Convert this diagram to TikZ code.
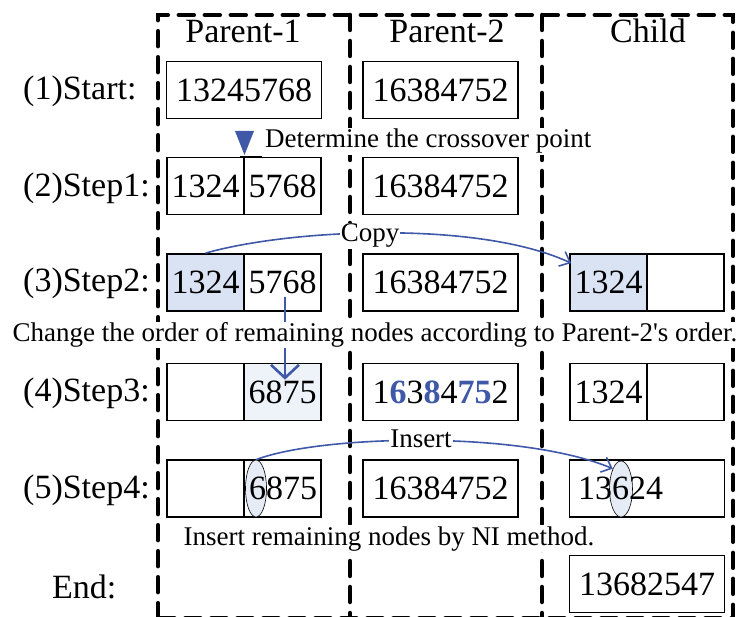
\documentclass[tikz,border=0pt]{standalone}
\usepackage{fontspec}
\setmainfont{Liberation Serif}[Ligatures=TeXOff]
\usetikzlibrary{arrows.meta,shapes.geometric,calc}
\definecolor{flowblue}{HTML}{3F58A8}
\definecolor{cellblue}{HTML}{DAE3F3}
\definecolor{cellpale}{HTML}{EEF2F9}
\definecolor{ovalfill}{HTML}{E6ECF6}

\begin{document}
\begin{tikzpicture}[x=1pt,y=1pt,
  lane/.style={line width=4.5pt, dash pattern=on 15pt off 11pt, line cap=round},
  cell/.style={draw, line width=1.7pt, minimum height=57pt, inner sep=0pt,
               font=\fontsize{34}{40}\selectfont},
  fullcell/.style={cell, minimum width=155pt},
  halfcell/.style={cell, minimum width=77pt},
  big/.style={font=\fontsize{34}{40}\selectfont, inner sep=0pt},
  note/.style={font=\fontsize{27}{32}\selectfont, inner sep=1pt, fill=white},
  oval/.style={ellipse, draw, line width=0.6pt, fill=ovalfill, inner sep=0pt},
  flow/.style={draw=flowblue, line width=1.6pt, -{Straight Barb[length=9pt,width=16pt,line width=1.6pt]}},
  ]
\useasboundingbox (0,0) rectangle (741,616);

% lane frame and column separators
\draw[lane] (158,-2.2) -- (158,601) -- (733,601) -- (733,-2.2) -- cycle;
\draw[lane] (350,601) -- (350,-2.2);
\draw[lane] (542,601) -- (542,-2.2);

% column headings
\node[big, anchor=base] (h1) at (243,573) {Parent-1};
\node[big, anchor=base] (h2) at (447,573) {Parent-2};
\node[big, anchor=base] (h3) at (648,573) {Child};

% row labels
\node[big, anchor=base west] (l1) at (23,516) {(1)Start:};
\node[big, anchor=base west] (l2) at (23,419) {(2)Step1:};
\node[big, anchor=base west] (l3) at (23,324) {(3)Step2:};
\node[big, anchor=base west] (l4) at (23,214) {(4)Step3:};
\node[big, anchor=base west] (l5) at (23,118) {(5)Step4:};
\node[big, anchor=base west] (l6) at (52,18) {End:};

% (1) start
\node[fullcell] (p1r1) at (244,526) {13245768};
\node[fullcell] (p2r1) at (440.5,526) {16384752};

% (2) crossover point
\node[note, anchor=base west] (cross) at (264,468) {Determine the crossover point};
\fill[flowblue] (235,485) -- (254,485) -- (244.5,461) -- cycle;
\draw[line width=0.8pt] (240,460) -- (262,460);
\node[halfcell] (p1r2a) at (205.5,430) {1324};
\node[halfcell] (p1r2b) at (282.5,430) {5768};
\node[fullcell] (p2r2) at (440.5,430) {16384752};

% (3) copy the first segment
\node[halfcell, fill=cellblue] (p1r3a) at (205.5,333.5) {1324};
\node[halfcell] (p1r3b) at (282.5,333.5) {5768};
\node[fullcell] (p2r3) at (440.5,333.5) {16384752};
\node[halfcell, fill=cellblue] (c3a) at (608.5,333.5) {1324};
\node[halfcell] (c3b) at (685.5,333.5) {};
\coordinate (copyend) at ($(c3a.north west)+(2,-10)$);
\draw[flow] (p1r3a.north) .. controls (290,387) and (478,396) .. (copyend);
\node[note, anchor=base] (copy) at (370,374) {Copy};

% (4) reorder the remaining genes
\node[halfcell] (p1r4a) at (205.5,224) {};
\node[halfcell, fill=cellpale] (p1r4b) at (282.5,224) {6875};
\node[fullcell] (p2r4) at (440.5,224)
  {1\textcolor{flowblue}{\textbf{6}}3\textcolor{flowblue}{\textbf{8}}4\textcolor{flowblue}{\textbf{75}}2};
\node[halfcell] (c4a) at (608.5,224) {1324};
\node[halfcell] (c4b) at (685.5,224) {};
\coordinate (downfrom) at ($(p1r3b.south)+(2.5,15)$);
\coordinate (downto) at ($(p1r4b.north)+(2.5,-17)$);
\draw[draw=flowblue, line width=2.6pt,
      -{Straight Barb[length=13pt,width=28pt,line width=2.6pt]}] (downfrom) -- (downto);
\node[note, anchor=base, inner sep=0.5pt] (reorder) at (375,274)
  {Change the order of remaining nodes according to Parent-2's order.};

% (5) insertion
\node[halfcell] (p1r5a) at (205.5,127.5) {};
\node[halfcell] (p1r5b) at (282.5,127.5) {};
\node[oval, minimum width=21pt, minimum height=57pt] (e1) at (256,127.5) {};
\node[big] (t5) at (283,127.5) {6875};
\node[fullcell] (p2r5) at (440.5,127.5) {16384752};
\node[fullcell] (c5) at (647,127.5) {};
\node[oval, minimum width=23pt, minimum height=56pt] (e2) at (621,127) {};
\node[big] (tc5) at (620.5,127.5) {13624};
\draw[flow] (e1.north) .. controls (320,181) and (520,186) .. (e2.112);
\node[note, anchor=base] (insert) at (421,168) {Insert};
\node[note, anchor=base] (nimethod) at (389,71) {Insert remaining nodes by NI method.};

% end
\node[fullcell] (cend) at (647,32) {13682547};
\end{tikzpicture}
\end{document}
